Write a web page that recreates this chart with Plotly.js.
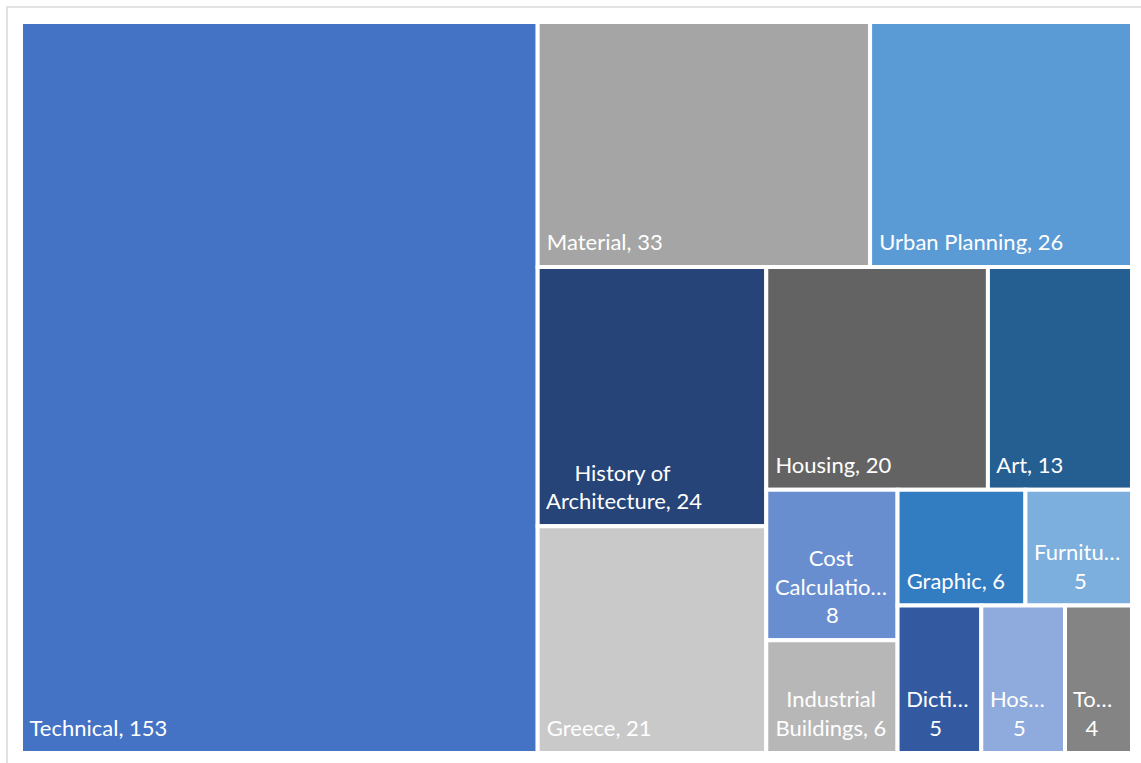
<!DOCTYPE html>
<html>
<head>
<meta charset="utf-8">
<script src="https://cdn.plot.ly/plotly-3.0.1.min.js"></script>
<style>html,body{margin:0;padding:0;background:#fff;}#chart{width:1141px;height:763px;}</style>
</head>
<body>
<div id="chart"></div>
<script>
// Data
const categories = ['Technical', 'Material', 'Urban Planning', 'History of Architecture', 'Greece', 'Housing', 'Art', 'Cost Calculation', 'Industrial Buildings', 'Graphic', 'Furniture', 'Dictionary', 'Hospital', 'To…'];
const counts = [153, 33, 26, 24, 21, 20, 13, 8, 6, 6, 5, 5, 5, 4];
// Names as displayed in the reference cells (wrapped with \n, truncated with …)
const shownNames = ['Technical', 'Material', 'Urban Planning', 'History of\nArchitecture', 'Greece', 'Housing', 'Art', 'Cost\nCalculatio…', 'Industrial\nBuildings', 'Graphic', 'Furnitu…', 'Dicti…', 'Hos…', 'To…'];
const valueOnOwnLine = [false, false, false, false, false, false, false, true, false, false, true, true, true, true];
const cellColors = ['#4472C4', '#A5A5A5', '#5B9BD5', '#264478', '#C9C9C9', '#636363', '#255E91', '#698ED0', '#B7B7B7', '#327DC2', '#7CAFDD', '#335AA1', '#8FAADC', '#848484'];

const FONT_FAMILY = 'Lato';
const FONT_SIZE = 22;
const NBSP = '\u00a0';
const STRUT_SIZE = 64; // tall, zero-advance strut that lifts the label off the cell bottom

// Measure text to centre wrapped lines (as the original does) and add a small left inset
const ctx = document.createElement('canvas').getContext('2d');
ctx.font = FONT_SIZE + 'px ' + FONT_FAMILY;
const spW = ctx.measureText(NBSP).width || FONT_SIZE * 0.19;
ctx.font = STRUT_SIZE + 'px ' + FONT_FAMILY;
const strutW = ctx.measureText(NBSP).width || STRUT_SIZE * 0.19;
const INSET = 1; // nbsp count for left inset

function strutWrap(s) {
  return '<span style="font-size:' + STRUT_SIZE + 'px;letter-spacing:-' + (strutW - 0.5).toFixed(2) + 'px">' + NBSP +
    '<span style="font-size:' + FONT_SIZE + 'px;letter-spacing:0px">' + s + '</span></span>';
}

const cellText = shownNames.map((name, i) => {
  const lines = name.split('\n');
  if (valueOnOwnLine[i]) lines.push(String(counts[i]));
  else lines[lines.length - 1] += ', ' + counts[i];
  const widths = lines.map(l => { ctx.font = FONT_SIZE + 'px ' + FONT_FAMILY; return ctx.measureText(l).width; });
  const maxW = Math.max(...widths);
  return lines.map((l, k) => {
    const centre = lines.length > 1 ? Math.round((maxW - widths[k]) / 2 / spW) : 0;
    const s = NBSP.repeat(INSET + centre) + l;
    return k === lines.length - 1 ? strutWrap(s) : s;
  }).join('<br>');
});

const trace = {
  type: 'treemap',
  labels: categories,
  parents: categories.map(() => ''),
  values: counts,
  text: cellText,
  texttemplate: '%{text}',
  textposition: 'bottom left',
  textfont: {family: FONT_FAMILY + ', "Open Sans", sans-serif', size: FONT_SIZE, color: '#ffffff'},
  marker: {colors: cellColors, line: {color: '#ffffff', width: 4}, pad: {t: 0, l: 0, r: 0, b: 0}},
  tiling: {packing: 'squarify', squarifyratio: 1, pad: 0},
  pathbar: {visible: false},
  sort: true,
  hoverinfo: 'none'
};

const layout = {
  width: 1141,
  height: 763,
  margin: {l: 21, r: 9, t: 22, b: 10, pad: 0},
  paper_bgcolor: '#ffffff',
  showlegend: false,
  shapes: [{
    type: 'rect', xref: 'paper', yref: 'paper',
    x0: -0.0126, x1: 1.0126, y0: -0.03, y1: 1.0205,
    line: {color: '#D9D9D9', width: 1.5}, fillcolor: 'rgba(0,0,0,0)', layer: 'below'
  }]
};

Plotly.newPlot('chart', [trace], layout, {displayModeBar: false, staticPlot: true});
</script>
</body>
</html>
